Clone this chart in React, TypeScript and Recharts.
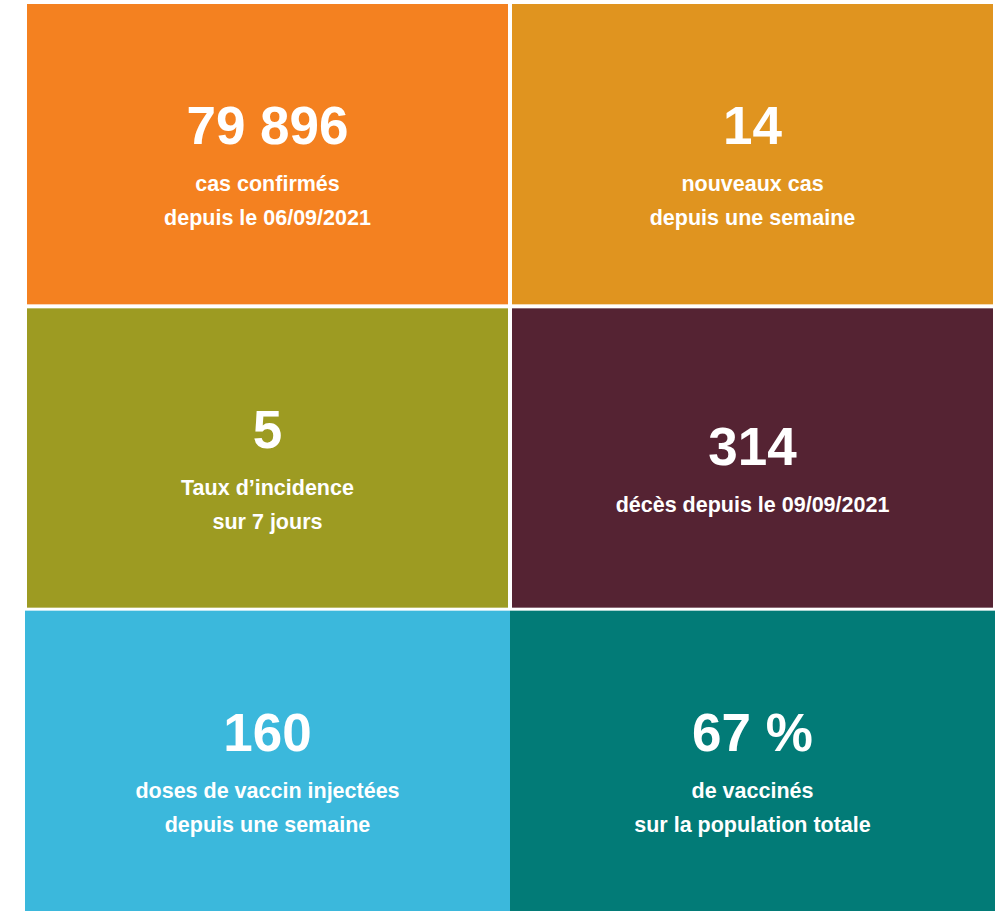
import { BarChart, Bar, XAxis, YAxis } from 'recharts';

// Tableau de bord : 3 lignes x 2 colonnes de tuiles
const colonnes = ['gauche', 'droite'];
const lignes = ['haut', 'milieu', 'bas'];

const valeurs = ['79 896', '14', '5', '314', '160', '67 %'];
const libelles = [
  ['cas confirmés', 'depuis le 06/09/2021'],
  ['nouveaux cas', 'depuis une semaine'],
  ['Taux d’incidence', 'sur 7 jours'],
  ['décès depuis le 09/09/2021'],
  ['doses de vaccin injectées', 'depuis une semaine'],
  ['de vaccinés', 'sur la population totale'],
];
const couleurs = ['#F48120', '#E0941F', '#9D9B22', '#552333', '#3BB8DC', '#027B77'];

const data = colonnes.map((c) => {
  const entry: any = { colonne: c };
  lignes.forEach((l) => {
    entry[l] = 1;
  });
  return entry;
});

const FONT = '"Liberation Sans", Arial, sans-serif';

function Tuile(props: any) {
  const { x, y, width, height, index, ligne } = props;
  const i = ligne * 2 + index;
  // petits espaces blancs entre les tuiles des deux premières lignes
  const gx = ligne < 2 ? 2 : 0;
  const top = ligne === 1 ? 2 : ligne === 2 ? 2 : 0;
  const bottom = ligne === 0 ? 2 : ligne === 1 ? 1 : 0;
  const rx = x + gx;
  const ry = y + top;
  const rw = width - gx * 2;
  const rh = height - top - bottom;
  const cx = rx + rw / 2;
  const cy = ry + rh / 2;
  const lib = libelles[i];
  const deux = lib.length > 1;
  const yNum = deux ? cy - 10 : cy + 7;
  return (
    <g>
      <rect x={rx} y={ry} width={rw} height={rh} fill={couleurs[i]} />
      <text x={cx} y={yNum} textAnchor="middle" fill="#fff" fontFamily={FONT} fontWeight="bold" fontSize={53}>
        {valeurs[i]}
      </text>
      {lib.map((t, k) => (
        <text
          key={k}
          x={cx}
          y={yNum + 47 + k * 34}
          textAnchor="middle"
          fill="#fff"
          fontFamily={FONT}
          fontWeight="bold"
          fontSize={21.5}
        >
          {t}
        </text>
      ))}
    </g>
  );
}

export default function App() {
  return (
    <div style={{ position: 'absolute', left: 0, top: 0, background: '#fff' }}>
      <BarChart
        width={995}
        height={911}
        data={data}
        margin={{ top: 4, right: 0, left: 25, bottom: 0 }}
        barCategoryGap={0}
      >
        <XAxis dataKey="colonne" hide />
        <YAxis hide domain={[0, 3]} />
        {[2, 1, 0].map((r) => (
          <Bar
            key={lignes[r]}
            dataKey={lignes[r]}
            stackId="tuiles"
            isAnimationActive={false}
            shape={(p: any) => <Tuile {...p} ligne={r} />}
          />
        ))}
      </BarChart>
    </div>
  );
}
